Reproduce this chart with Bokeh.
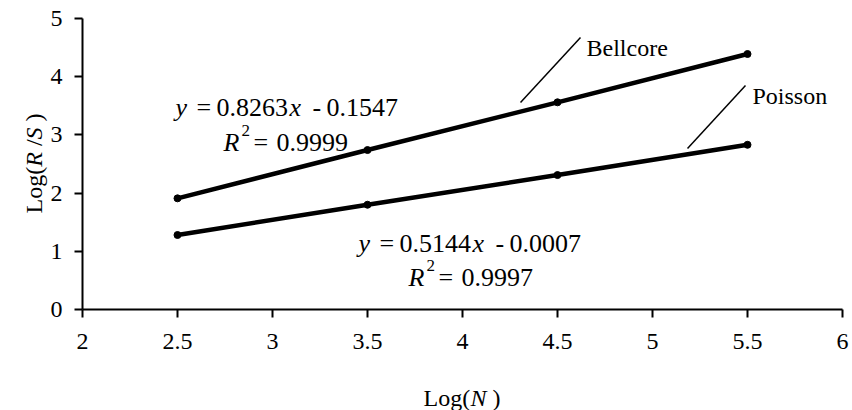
import math
from bokeh.plotting import figure
from bokeh.models import Range1d, FixedTicker, Label, Segment, ColumnDataSource
from bokeh.embed import file_html
from bokeh.resources import INLINE

# ---- data ----
log_n = [2.5, 3.5, 4.5, 5.5]
bellcore = [1.91, 2.74, 3.56, 4.39]
poisson = [1.28, 1.80, 2.31, 2.83]
x_ticks = [2, 2.5, 3, 3.5, 4, 4.5, 5, 5.5, 6]
x_tick_labels = ["2", "2.5", "3", "3.5", "4", "4.5", "5", "5.5", "6"]
y_ticks = [0, 1, 2, 3, 4, 5]
y_tick_labels = ["0", "1", "2", "3", "4", "5"]

FONT = "Liberation Serif"
W, H = 852, 410
# pixel placement of the plotting area inside the canvas
PX_LEFT, PX_RIGHT, PX_TOP, PX_BOTTOM = 82, 842, 18, 309
X0, X1, Y0, Y1 = 2, 6, 0, 5
kx = (X1 - X0) / (PX_RIGHT - PX_LEFT)
ky = (Y1 - Y0) / (PX_BOTTOM - PX_TOP)

p = figure(width=W, height=H, output_backend="svg", toolbar_location=None,
           x_range=Range1d(X0 - PX_LEFT * kx, X1 + (W - PX_RIGHT) * kx),
           y_range=Range1d(Y0 - (H - PX_BOTTOM) * ky, Y1 + PX_TOP * ky),
           min_border=0, min_border_left=0, min_border_right=0,
           min_border_top=0, min_border_bottom=0)
p.outline_line_color = None
p.xgrid.grid_line_color = None
p.ygrid.grid_line_color = None
p.background_fill_color = "white"
p.border_fill_color = "white"

p.xaxis.fixed_location = Y0
p.xaxis.bounds = (X0, X1)
p.yaxis.fixed_location = X0
p.yaxis.bounds = (Y0, Y1)

p.axis.axis_line_color = "black"
p.axis.axis_line_width = 2
p.axis.major_tick_line_color = "black"
p.axis.major_tick_line_width = 2
p.axis.major_tick_in = 0
p.axis.major_tick_out = 8
p.axis.minor_tick_line_color = None
p.axis.major_label_text_font = FONT
p.axis.major_label_text_font_size = "24px"
p.axis.major_label_text_color = "black"

p.xaxis.ticker = FixedTicker(ticks=x_ticks)
p.xaxis.major_label_overrides = {t: l for t, l in zip(x_ticks, x_tick_labels)}
p.xaxis.major_label_standoff = 16
p.yaxis.ticker = FixedTicker(ticks=y_ticks)
p.yaxis.major_label_overrides = {t: l for t, l in zip(y_ticks, y_tick_labels)}
p.yaxis.major_label_standoff = 12

# series
for ys in (bellcore, poisson):
    p.line(log_n, ys, line_color="black", line_width=4.5)
    p.scatter(log_n, ys, size=7, color="black")

# helpers: canvas pixel -> data coordinates
def dx(px):
    return X0 + (px - PX_LEFT) * kx

def dy(py):
    return Y0 + (PX_BOTTOM - py) * ky

def txt(text, px, py, size="24px", italic=False, angle=0.0):
    p.add_layout(Label(x=dx(px), y=dy(py), text=text, text_font=FONT,
                       text_font_size=size, text_font_style="italic" if italic else "normal",
                       text_color="black", text_align="left", text_baseline="alphabetic",
                       angle=angle))

# leader lines
lead = ColumnDataSource(dict(x0=[dx(520), dx(687)], y0=[dy(102), dy(148)],
                             x1=[dx(580), dx(745)], y1=[dy(37), dy(85)]))
p.add_glyph(lead, Segment(x0="x0", y0="y0", x1="x1", y1="y1", line_color="black", line_width=1.5))

txt("Bellcore", 586, 47)
txt("Poisson", 752, 95)

EQ = "26px"
SUP = "17px"
# equation 1
txt("y", 175, 107, EQ, italic=True)
txt("=", 196, 107, EQ)
txt("0.8263", 216, 107, EQ)
txt("x", 289, 107, EQ, italic=True)
txt("-", 312, 107, EQ)
txt("0.1547", 326, 107, EQ)
txt("R", 223, 142, EQ, italic=True)
txt("2", 241, 130, SUP)
txt("=", 253, 142, EQ)
txt("0.9999", 276, 142, EQ)
# equation 2
txt("y", 358, 243, EQ, italic=True)
txt("=", 379, 243, EQ)
txt("0.5144", 399, 243, EQ)
txt("x", 472, 243, EQ, italic=True)
txt("-", 495, 243, EQ)
txt("0.0007", 509, 243, EQ)
txt("R", 408, 277, EQ, italic=True)
txt("2", 426, 265, SUP)
txt("=", 438, 277, EQ)
txt("0.9997", 461, 277, EQ)

# x axis label: Log(N )
txt("Log(", 423, 397)
txt("N", 470, 397, italic=True)
txt(")", 492, 397)

# y axis label: Log(R /S ) rotated
a = math.pi / 2
txt("Log(", 33, 213, angle=a)
txt("R", 33, 166.3, italic=True, angle=a)
txt("/", 33, 145.6, angle=a)
txt("S", 33, 138.9, italic=True, angle=a)
txt(")", 33, 120.9, angle=a)

open("out.html", "w").write(file_html(p, INLINE))
